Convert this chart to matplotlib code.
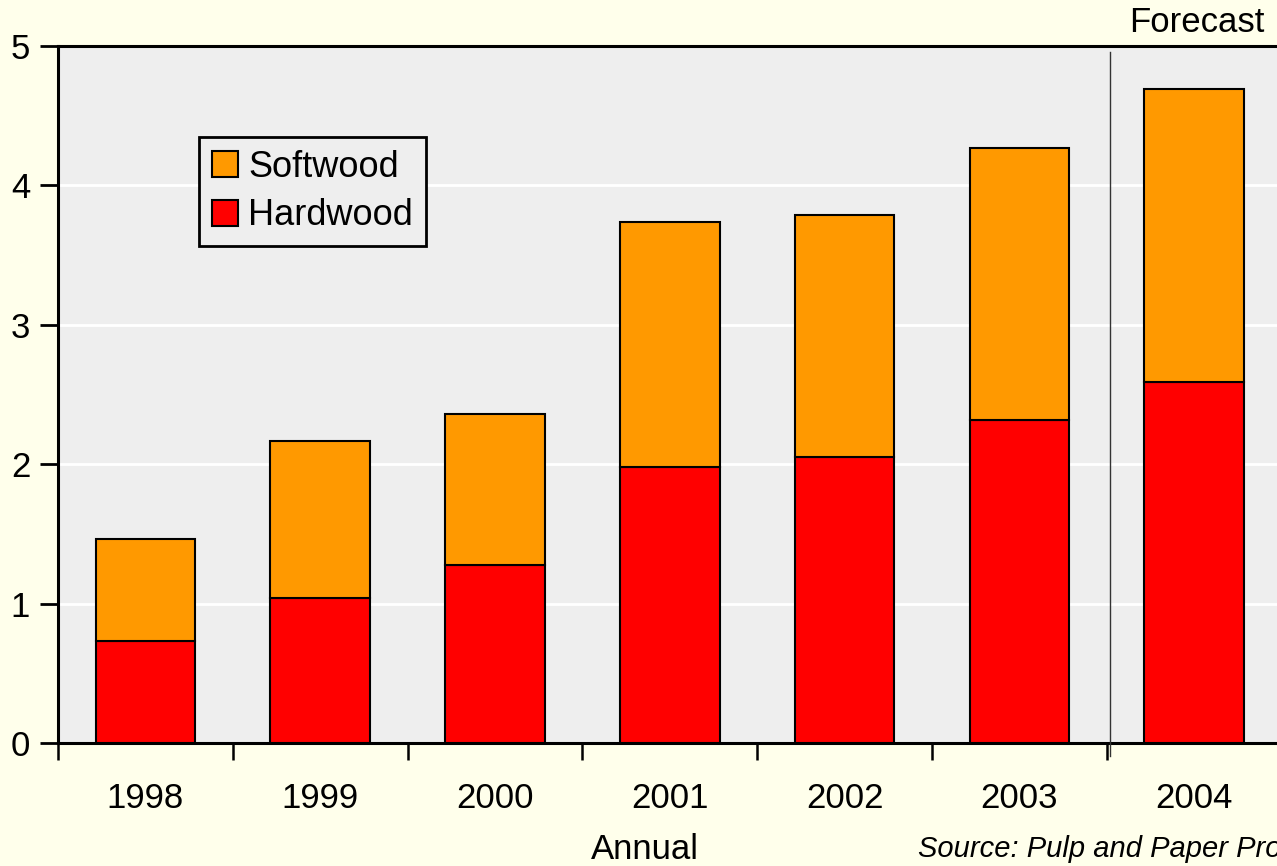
import matplotlib
matplotlib.use("Agg")
import matplotlib.pyplot as plt
import numpy as np

years = ["1998", "1999", "2000", "2001", "2002", "2003", "2004"]
hardwood = [0.73, 1.04, 1.28, 1.98, 2.05, 2.32, 2.59]
softwood = [0.73, 1.13, 1.08, 1.76, 1.74, 1.95, 2.10]
yticks = [0, 1, 2, 3, 4, 5]

plt.rcParams['font.family'] = ['Liberation Sans', 'DejaVu Sans']

fig = plt.figure(figsize=(12.77, 8.66), dpi=100)
fig.patch.set_facecolor('#FFFFEB')
ax = fig.add_axes([58/1277, 1-743/866, 7*174.8/1277, (743-46)/866])
ax.set_facecolor('#EEEEEE')

x = np.arange(len(years))
w = 0.57
ax.bar(x, hardwood, w, color='#FF0000', edgecolor='black', linewidth=1.5, label='Hardwood', zorder=3)
ax.bar(x, softwood, w, bottom=hardwood, color='#FF9900', edgecolor='black', linewidth=1.5, label='Softwood', zorder=3)

ax.set_xlim(-0.5, 6.5)
ax.set_ylim(0, 5)
ax.set_yticks(yticks)
ax.set_yticklabels([str(t) for t in yticks], fontsize=25)
ax.yaxis.grid(True, color='white', linewidth=2, zorder=0)
ax.set_axisbelow(True)

ax.set_xticks(np.arange(-0.5, 6.0, 1.0))
ax.set_xticklabels([])
ax.set_xticks(x, minor=True)
ax.set_xticklabels(years, minor=True, fontsize=25)
ax.tick_params(axis='x', which='major', direction='out', length=12, width=1.8, color='black')
ax.tick_params(axis='x', which='minor', length=0, pad=28)
ax.tick_params(axis='y', direction='out', length=13, width=2, pad=7)

for s in ['left', 'bottom', 'top']:
    ax.spines[s].set_linewidth(2.2)
ax.spines['right'].set_visible(False)

# forecast separator
ax.plot([5.52, 5.52], [-0.09, 4.96], color='#333333', linewidth=1, clip_on=False, zorder=4)

handles, labels = ax.get_legend_handles_labels()
leg = ax.legend(handles[::-1], labels[::-1], loc='upper left', bbox_to_anchor=((199-58)/(7*174.8), (743-137)/697),
                fontsize=26, frameon=True, fancybox=False, edgecolor='black', facecolor='#EEEEEE',
                framealpha=1, handlelength=0.72, handleheight=0.72, handletextpad=0.3, borderpad=0.35,
                labelspacing=0.38, borderaxespad=0)
leg.get_frame().set_linewidth(2)

fig.text(1265/1277, 1-32/866, 'Forecast', fontsize=25, ha='right', va='baseline')
fig.text(645/1277, 1-859/866, 'Annual', fontsize=25, ha='center', va='baseline')
fig.text(918/1277, 1-857/866, 'Source: Pulp and Paper Products Council', fontsize=21, style='italic', ha='left', va='baseline')

fig.savefig('out.png', dpi=100, facecolor=fig.get_facecolor())
